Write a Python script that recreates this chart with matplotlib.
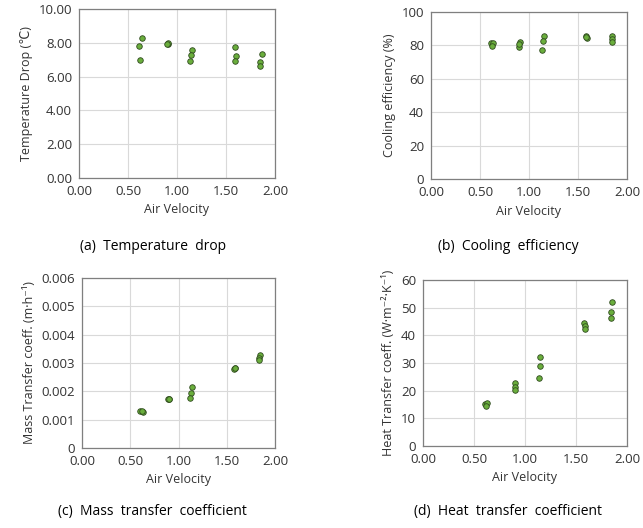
import numpy as np
import matplotlib.pyplot as plt
from matplotlib.ticker import FormatStrFormatter, MultipleLocator, FuncFormatter

plt.rcParams['font.family'] = ['Open Sans', 'DejaVu Sans']

# (a) temperature drop
v_a = [0.64, 0.61, 0.626, 0.905, 0.905, 0.903, 1.156, 1.143, 1.136, 1.59, 1.60, 1.59, 1.864, 1.85, 1.85]
td = [8.26, 7.81, 7.0, 7.95, 7.97, 7.93, 7.55, 7.30, 6.92, 7.75, 7.22, 6.92, 7.34, 6.84, 6.65]

# (b) cooling efficiency
v_b = [0.61, 0.63, 0.62, 0.905, 0.90, 0.903, 1.15, 1.14, 1.13, 1.585, 1.587, 1.586, 1.85, 1.85, 1.85]
eff = [81.3, 81.7, 79.5, 81.9, 79.3, 80.7, 85.7, 82.5, 77.3, 85.7, 84.3, 85.0, 85.7, 83.7, 82.1]

# (c) mass transfer coefficient
v_c = [0.60, 0.628, 0.617, 0.897, 0.895, 0.899, 1.145, 1.131, 1.121, 1.583, 1.58, 1.585, 1.848, 1.834, 1.834]
mtc = [0.00132, 0.00128, 0.00131, 0.00174, 0.00172, 0.00173, 0.00214, 0.00194, 0.00177,
       0.00281, 0.00280, 0.00282, 0.00327, 0.00319, 0.00309]

# (d) heat transfer coefficient
v_d = [0.608, 0.627, 0.62, 0.902, 0.90, 0.898, 1.15, 1.144, 1.134, 1.58, 1.59, 1.587, 1.856, 1.846, 1.846]
htc = [15.2, 15.7, 14.6, 22.6, 21.4, 20.4, 32.2, 28.9, 24.5, 44.6, 43.3, 42.3, 51.9, 48.3, 46.4]

W, H = 643, 528
fig = plt.figure(figsize=(W / 100, H / 100), dpi=100)


def make_ax(l, r, t, b):
    return fig.add_axes([l / W, (H - b) / H, (r - l) / W, (b - t) / H])


def style(ax, ymax, ystep, yfmt, ylabel):
    ax.set_xlim(0, 2)
    ax.set_ylim(0, ymax)
    ax.xaxis.set_major_locator(MultipleLocator(0.5))
    ax.xaxis.set_major_formatter(FormatStrFormatter('%.2f'))
    ax.yaxis.set_major_locator(MultipleLocator(ystep))
    if yfmt:
        ax.yaxis.set_major_formatter(yfmt)
    ax.grid(True, color='#d9d9d9', linewidth=0.8)
    ax.set_axisbelow(True)
    for s in ax.spines.values():
        s.set_color('#7f7f7f')
        s.set_linewidth(0.9)
    ax.tick_params(length=0, labelsize=9.5, labelcolor='#333333', pad=5)
    ax.set_xlabel('Air Velocity', fontsize=9, color='#333333', labelpad=4)
    ax.set_ylabel(ylabel, fontsize=9, color='#333333', labelpad=4)


mk = dict(s=16, color='#6aae3c', edgecolors='#2f4a1f', linewidths=0.6, zorder=3)

ax1 = make_ax(79, 275, 9, 178)
ax1.scatter(v_a, td, **mk)
style(ax1, 10, 2, FormatStrFormatter('%.2f'), 'Temperature Drop (℃)')

ax2 = make_ax(431, 627, 12, 179)
ax2.scatter(v_b, eff, **mk)
style(ax2, 100, 20, None, 'Cooling efficiency (%)')

ax3 = make_ax(82, 275, 278, 448)
ax3.scatter(v_c, mtc, **mk)
style(ax3, 0.006, 0.001, FuncFormatter(lambda v, p: '0' if abs(v) < 1e-9 else f'{v:.3f}'),
      'Mass Transfer coeff. (m·h⁻¹)')

ax4 = make_ax(423, 627, 280, 446)
ax4.scatter(v_d, htc, **mk)
style(ax4, 60, 10, None, 'Heat Transfer coeff. (W·m⁻²·K⁻¹)')

caps = [(153, 247, '(a)  Temperature  drop'), (508, 247, '(b)  Cooling  efficiency'),
        (152, 512, '(c)  Mass  transfer  coefficient'), (508, 512, '(d)  Heat  transfer  coefficient')]
for x, y, t in caps:
    fig.text(x / W, 1 - y / H, t, ha='center', va='center', fontsize=10, color='#000000')

fig.savefig('out.png', dpi=100)
